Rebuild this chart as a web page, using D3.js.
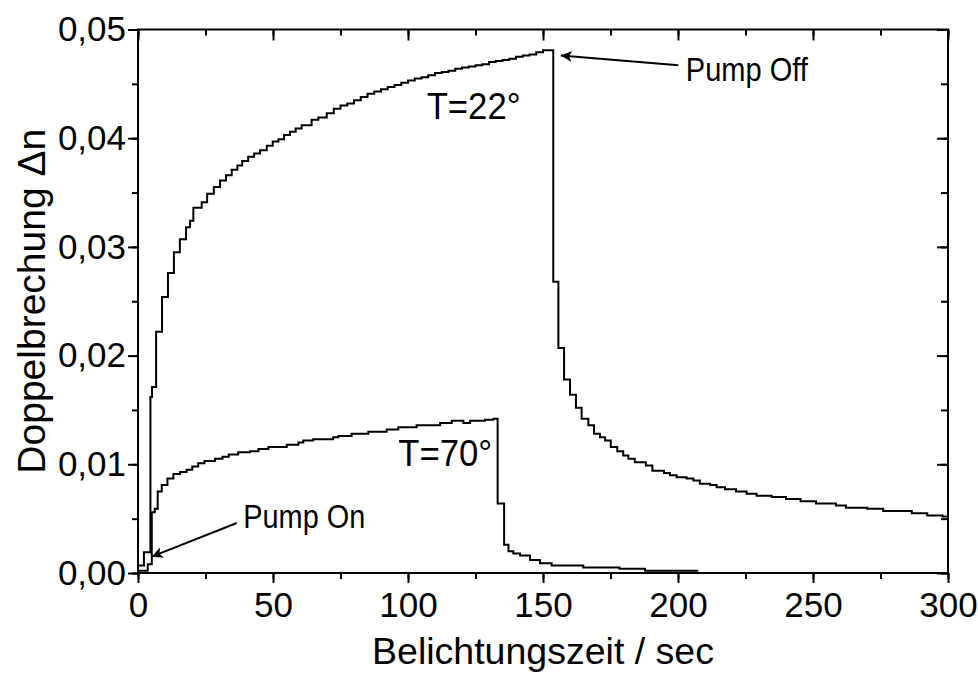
<!DOCTYPE html>
<html>
<head>
<meta charset="utf-8">
<script src="https://cdn.jsdelivr.net/npm/d3@7"></script>
<style>
  html, body { margin: 0; padding: 0; background: #fff; }
  svg { display: block; }
  text { font-family: "Liberation Sans", Arial, sans-serif; fill: #000; }
</style>
</head>
<body>
<svg id="chart" width="978" height="675"></svg>
<script>
// ---- data ----
const xTicks = [0, 50, 100, 150, 200, 250, 300];
const yTicks = [0.00, 0.01, 0.02, 0.03, 0.04, 0.05];
const xLabel = "Belichtungszeit / sec";
const yLabel = "Doppelbrechung \u0394n";

// T = 22°: [time (s), birefringence]
const curve22 = [
  [0, 0.0007], [2.2, 0.0019], [4.6, 0.0162], [5.2, 0.0171], [6.7, 0.0222], [8.9, 0.0254],
  [11.1, 0.0276], [13.3, 0.0295], [15.5, 0.0307], [17.8, 0.0318], [19.3, 0.0324], [20.5, 0.0336],
  [23.6, 0.0341], [25.6, 0.0349], [28.1, 0.0355], [30.4, 0.0361], [32.6, 0.0366], [34.7, 0.0371],
  [36.8, 0.0375], [38.6, 0.0379], [40.8, 0.0383], [43, 0.0386], [45.2, 0.0389], [47.7, 0.0393],
  [49.9, 0.0397], [52, 0.0399], [54.1, 0.0403], [56.3, 0.0406], [58.4, 0.0409], [60.6, 0.0412],
  [64.3, 0.0417], [66.8, 0.0419], [69.9, 0.0423], [72.5, 0.0427], [75, 0.0430], [77.5, 0.0432],
  [80, 0.0435], [82.5, 0.0438], [85, 0.0441], [87.5, 0.0443], [90, 0.0445], [92.5, 0.0447],
  [95, 0.0449], [97.5, 0.0451], [100, 0.0453], [102.5, 0.0455], [105, 0.0456], [107.5, 0.0458],
  [110, 0.0460], [112.5, 0.0461], [115, 0.0462], [117.5, 0.0464], [120, 0.0465], [122.5, 0.0466],
  [125, 0.0467], [127.5, 0.0468], [130, 0.0470], [132.5, 0.0471], [135, 0.0472], [137.5, 0.0473],
  [140, 0.0475], [142.5, 0.0476], [145, 0.0477], [147.5, 0.0479], [150, 0.0481],
  [153.8, 0.0268], [155.7, 0.0207], [157.8, 0.0178], [160, 0.0164], [162.2, 0.0152], [164.3, 0.0142],
  [166.8, 0.0136], [168.9, 0.0128], [171.1, 0.0125], [173, 0.0122], [175.1, 0.0116], [177.5, 0.0112],
  [179.7, 0.0108], [181.6, 0.0105], [184, 0.0102], [188.1, 0.0099], [190.5, 0.0094], [194.8, 0.0092],
  [197, 0.0090], [199.5, 0.0088], [203.2, 0.0087], [205.7, 0.0085], [208.1, 0.0082], [211.9, 0.0081],
  [214.3, 0.0079], [217.4, 0.0077], [221.5, 0.0075], [225.4, 0.0073], [229.1, 0.0071], [234.7, 0.0070],
  [240, 0.0068], [245.4, 0.0066], [251.1, 0.0064], [258.5, 0.0062], [262.2, 0.0060], [270.1, 0.0059],
  [276, 0.0057], [286.6, 0.0055], [292.3, 0.0053], [298, 0.0052], [300, 0.0052]
];

// T = 70°: [time (s), birefringence]
const curve70 = [
  [0, 0.0002], [3.6, 0.0008], [5.1, 0.0056], [6.2, 0.0059], [7.3, 0.0075], [8.8, 0.0081],
  [10.9, 0.0087], [13.1, 0.0091], [15.6, 0.0093], [18, 0.0095], [20.1, 0.0098], [22.3, 0.0101],
  [24.6, 0.0103], [28.5, 0.0105], [31.3, 0.0107], [33.6, 0.0109], [37.1, 0.0111], [41.5, 0.0112],
  [44.6, 0.0114], [48.3, 0.0116], [55.1, 0.0118], [59.4, 0.0120], [61.2, 0.0122], [64.9, 0.0123],
  [72.3, 0.0125], [74.2, 0.0126], [79.1, 0.0128], [85.3, 0.0130], [92.1, 0.0132], [96.4, 0.0134],
  [103.2, 0.0136], [111.9, 0.0138], [116.2, 0.0140], [120.5, 0.0138], [123, 0.0140], [128.5, 0.0141],
  [131.6, 0.0142], [133.2, 0.0064], [135.6, 0.0026], [137.2, 0.0020], [139, 0.0018], [141.5, 0.0016],
  [145.2, 0.0012], [148.9, 0.0009], [153.2, 0.0007], [164.9, 0.0005], [178.3, 0.0004], [187.8, 0.0002],
  [207.5, 0.0002]
];

const curveLabels = [
  { text: "T=22\u00b0", t: 106.9, v: 0.0418 },
  { text: "T=70\u00b0", t: 96.4, v: 0.0098 }
];
const arrows = [
  { text: "Pump Off", tx: 202.9, tv: 0.0453, from: [200.1, 0.0467], to: [156.6, 0.0476] },
  { text: "Pump On", tx: 39, tv: 0.0041, from: [36.6, 0.0046], to: [5.1, 0.0015] }
];

// ---- layout ----
const svg = d3.select("#chart");
const L = 138, R = 948, T = 29.5, B = 573;
const x = d3.scaleLinear().domain([0, 300]).range([L, R]);
const y = d3.scaleLinear().domain([0, 0.05]).range([B, T]);
const FS_TICK = 35, FS_TITLE = 37, FS_CURVE = 37, FS_NOTE = 34;
const fmtY = d => d3.format(".2f")(d).replace(".", ",");

const xMinor = d3.range(0, 301, 25);
const yMinor = d3.range(0, 0.0501, 0.005);

svg.append("g").attr("transform", `translate(0,${B})`)
  .call(d3.axisBottom(x).tickValues(xMinor).tickSize(6).tickFormat(""));
svg.append("g").attr("transform", `translate(0,${B})`)
  .call(d3.axisBottom(x).tickValues(xTicks).tickSize(10).tickPadding(9).tickFormat(d3.format("d")));
svg.append("g").attr("transform", `translate(0,${T})`)
  .call(d3.axisBottom(x).tickValues(xMinor).tickSize(6).tickFormat(""));
svg.append("g").attr("transform", `translate(0,${T})`)
  .call(d3.axisBottom(x).tickValues(xTicks).tickSize(11).tickFormat(""));
svg.append("g").attr("transform", `translate(${L},0)`)
  .call(d3.axisLeft(y).tickValues(yMinor).tickSize(6).tickFormat(""));
svg.append("g").attr("transform", `translate(${L},0)`)
  .call(d3.axisLeft(y).tickValues(yTicks).tickSize(10).tickPadding(2).tickFormat(fmtY));
svg.append("g").attr("transform", `translate(${R},0)`)
  .call(d3.axisLeft(y).tickValues(yMinor).tickSize(7).tickFormat(""));
svg.append("g").attr("transform", `translate(${R},0)`)
  .call(d3.axisLeft(y).tickValues(yTicks).tickSize(11).tickFormat(""));

svg.selectAll(".domain").remove();
svg.selectAll(".tick line").attr("stroke", "#000").attr("stroke-width", 2);
svg.selectAll(".tick text").attr("font-size", FS_TICK)
  .attr("font-family", "Liberation Sans, Arial, sans-serif").attr("fill", "#000");

// frame
svg.append("rect").attr("x", L).attr("y", T).attr("width", R - L).attr("height", B - T)
  .attr("fill", "none").attr("stroke", "#000").attr("stroke-width", 2);

// curves
const line = d3.line().x(d => x(d[0])).y(d => y(d[1])).curve(d3.curveStepAfter);
[curve22, curve70].forEach(c => {
  svg.append("path").datum(c).attr("d", line)
    .attr("fill", "none").attr("stroke", "#000").attr("stroke-width", 2)
    .attr("stroke-linejoin", "miter");
});

// labels on curves
curveLabels.forEach(l => {
  svg.append("text").attr("x", x(l.t)).attr("y", y(l.v)).attr("font-size", FS_CURVE)
    .attr("textLength", 94).attr("lengthAdjust", "spacingAndGlyphs").text(l.text);
});

// arrows
svg.append("defs").append("marker").attr("id", "ah")
  .attr("viewBox", "0 0 10 10").attr("refX", 10).attr("refY", 5)
  .attr("markerWidth", 17).attr("markerHeight", 11).attr("markerUnits", "userSpaceOnUse")
  .attr("orient", "auto")
  .append("path").attr("d", "M0,0 L10,5 L0,10 L2.5,5 Z").attr("fill", "#000");
arrows.forEach(a => {
  svg.append("line")
    .attr("x1", x(a.from[0])).attr("y1", y(a.from[1]))
    .attr("x2", x(a.to[0])).attr("y2", y(a.to[1]))
    .attr("stroke", "#000").attr("stroke-width", 2).attr("marker-end", "url(#ah)");
  svg.append("text").attr("x", x(a.tx)).attr("y", y(a.tv)).attr("font-size", FS_NOTE)
    .attr("textLength", 122).attr("lengthAdjust", "spacingAndGlyphs").text(a.text);
});

// axis titles
svg.append("text").attr("x", (L + R) / 2).attr("y", 664).attr("text-anchor", "middle")
  .attr("font-size", FS_TITLE).attr("textLength", 342).attr("lengthAdjust", "spacingAndGlyphs")
  .text(xLabel);
svg.append("text").attr("transform", `translate(45,${(T + B) / 2}) rotate(-90)`)
  .attr("text-anchor", "middle").attr("font-size", FS_TITLE + 2).text(yLabel);
</script>
</body>
</html>
